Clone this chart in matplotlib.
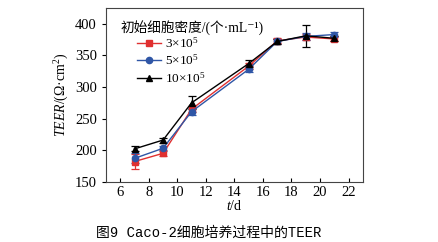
import matplotlib
matplotlib.use("Agg")
import matplotlib.pyplot as plt
from matplotlib.lines import Line2D

plt.rcParams['font.family'] = ['Liberation Serif', 'Noto Sans CJK SC', 'DejaVu Sans']
plt.rcParams['mathtext.fontset'] = 'custom'
plt.rcParams['mathtext.rm'] = 'Liberation Serif'
plt.rcParams['mathtext.it'] = 'Liberation Serif:italic'

days = [7, 9, 11, 15, 17, 19, 21]
labels = [r'3×10$^5$', r'5×10$^5$', r'10×10$^5$']
teer_3 = [182, 195, 265, 333, 373, 379, 376]
teer_5 = [187, 203, 261, 328, 372, 380, 383]
teer_10 = [202, 216, 275, 337, 372, 381, 377]
err_3 = [12, 5, 5, 5, 4, 5, 4]
err_5 = [8, 4, 5, 5, 4, 5, 4]
err_10 = [4, 4, 10, 5, 4, 17, 4]

colors = ['#e03030', '#2f56a6', '#000000']
markers = ['s', 'o', '^']

fig = plt.figure(figsize=(4.39, 2.42), dpi=100)
ax = fig.add_axes([0.2415, 0.249, 0.585, 0.718])

handles = []
for vals, errs, c, m, lab in zip([teer_3, teer_5, teer_10], [err_3, err_5, err_10], colors, markers, labels):
    ax.errorbar(days, vals, yerr=errs, color=c, marker=m, markersize=4.5, lw=1.0,
                capsize=3, elinewidth=0.9, capthick=0.9)
    handles.append(Line2D([], [], color=c, marker=m, markersize=4.5, lw=1.0, label=lab))

ax.set_xlim(5, 23)
ax.set_ylim(150, 425)
ax.set_xticks(range(6, 23, 2))
ax.set_yticks(range(150, 401, 50))
ax.tick_params(axis='x', direction='in', length=3, labelsize=10.5, pad=3)
ax.tick_params(axis='y', direction='out', length=3, labelsize=10.5)
for s in ax.spines.values():
    s.set_linewidth(0.8)
    s.set_color('#444444')

ax.set_xlabel(r'$\mathit{t}$/d', fontsize=10, labelpad=0)
ax.set_ylabel(r'$\mathit{TEER}$/(Ω·cm$^2$)', fontsize=10, labelpad=3)

ax.text(0.055, 0.89, '初始细胞密度/(个·mL⁻¹)', transform=ax.transAxes,
        ha='left', va='center', fontsize=9.8,
        family=['Liberation Serif', 'Noto Sans CJK SC', 'DejaVu Sans'])
ax.legend(handles=handles, loc='upper left', bbox_to_anchor=(0.12, 0.84), frameon=False,
          fontsize=9.5, handlelength=1.8, handletextpad=0.3,
          borderaxespad=0, borderpad=0, labelspacing=0.22)

fig.text(0.475, 0.04, '图9 Caco-2细胞培养过程中的TEER', ha='center', va='center',
         fontsize=10, family=['Liberation Mono', 'Noto Sans CJK SC'])

fig.savefig('out.png', dpi=100)
